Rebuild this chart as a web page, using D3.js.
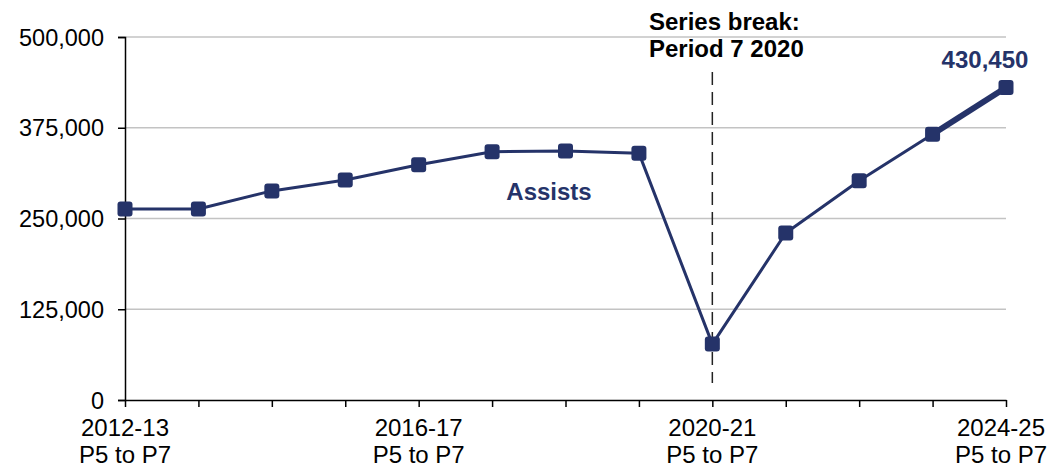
<!DOCTYPE html>
<html>
<head>
<meta charset="utf-8">
<script src="https://cdn.jsdelivr.net/npm/d3@7"></script>
<style>
  body { margin: 0; background: #fff; }
  svg text { font-family: "Liberation Sans", Arial, sans-serif; }
</style>
</head>
<body>
<div id="chart"></div>
<script>
const years = ["2012-13", "2013-14", "2014-15", "2015-16", "2016-17", "2017-18", "2018-19",
               "2019-20", "2020-21", "2021-22", "2022-23", "2023-24", "2024-25"];
const assists = [263000, 263000, 288000, 303000, 324000, 342000, 343000,
                 340000, 77000, 230000, 302000, 366000, 430450];
const yTicks = [0, 125000, 250000, 375000, 500000];
const labelledYears = ["2012-13", "2016-17", "2020-21", "2024-25"];
const breakYear = "2020-21";

const width = 1062, height = 468,
  margin = { top: 37, right: 56, bottom: 68, left: 125 };
const navy = "#253369";

const svg = d3.select("#chart").append("svg")
  .attr("width", width).attr("height", height);

let x = d3.scalePoint().domain(years).range([margin.left, width - margin.right]);
let y = d3.scaleLinear().domain([0, 500000]).range([height - margin.bottom, margin.top]);

// grid
svg.selectAll(".grid").data(yTicks.slice(1)).enter().append("line")
  .attr("x1", margin.left).attr("x2", width - margin.right)
  .attr("y1", d => y(d)).attr("y2", d => y(d))
  .attr("stroke", "#c3c3c3").attr("stroke-width", 1.5);

// y axis
let yAxis = svg.append("g")
  .attr("transform", "translate(" + margin.left + ",0)")
  .call(d3.axisLeft(y).tickValues(yTicks).tickSize(7).tickPadding(14).tickFormat(d3.format(",")));
yAxis.attr("font-size", null).attr("font-family", null);
yAxis.selectAll("text").attr("font-size", "23.5px").attr("fill", "#000").attr("dy", "0.35em");
yAxis.selectAll("line, path").attr("stroke", "#000").attr("stroke-width", 1.5);

// x axis
let xAxis = svg.append("g")
  .attr("transform", "translate(0," + y(0) + ")")
  .call(d3.axisBottom(x).tickSize(7).tickSizeOuter(0).tickFormat(""));
xAxis.selectAll("line, path").attr("stroke", "#000").attr("stroke-width", 1.5);

labelledYears.forEach(yr => {
  let cx = x(yr) - (yr === "2024-25" ? 5 : 0);
  let t = svg.append("text")
    .attr("text-anchor", "middle")
    .attr("font-size", "24px")
    .attr("fill", "#000");
  t.append("tspan").attr("x", cx).attr("y", 436).text(yr);
  t.append("tspan").attr("x", cx).attr("y", 463).text("P5 to P7");
});

// series break
svg.append("line")
  .attr("x1", x(breakYear)).attr("x2", x(breakYear))
  .attr("y1", 72).attr("y2", 383)
  .attr("stroke", "#222").attr("stroke-width", 1.5)
  .attr("stroke-dasharray", "13,7");

let sb = svg.append("text").attr("font-size", "24px").attr("font-weight", "bold").attr("fill", "#000");
sb.append("tspan").attr("x", 649).attr("y", 30).text("Series break:");
sb.append("tspan").attr("x", 649).attr("y", 57).text("Period 7 2020");

// line
let line = d3.line().x((d, i) => x(years[i])).y(d => y(d));
svg.append("path")
  .attr("d", line(assists))
  .attr("fill", "none").attr("stroke", navy).attr("stroke-width", 3)
  .attr("stroke-linejoin", "round");

// latest segment drawn heavier
let n = assists.length;
svg.append("path")
  .attr("d", line.x((d, i) => x(years[n - 2 + i]))(assists.slice(n - 2)))
  .attr("fill", "none").attr("stroke", navy).attr("stroke-width", 6);

// markers
svg.selectAll(".pt").data(assists).enter().append("rect")
  .attr("x", (d, i) => x(years[i]) - 7.5)
  .attr("y", d => y(d) - 7.5)
  .attr("width", 15).attr("height", 15)
  .attr("rx", 3)
  .attr("fill", navy);

// labels
svg.append("text")
  .attr("x", 549).attr("y", 200)
  .attr("text-anchor", "middle")
  .attr("font-size", "24px").attr("font-weight", "bold")
  .attr("fill", navy).text("Assists");

svg.append("text")
  .attr("x", 985).attr("y", 68)
  .attr("text-anchor", "middle")
  .attr("font-size", "24px").attr("font-weight", "bold")
  .attr("fill", navy).text(d3.format(",")(assists[n - 1]));
</script>
</body>
</html>
